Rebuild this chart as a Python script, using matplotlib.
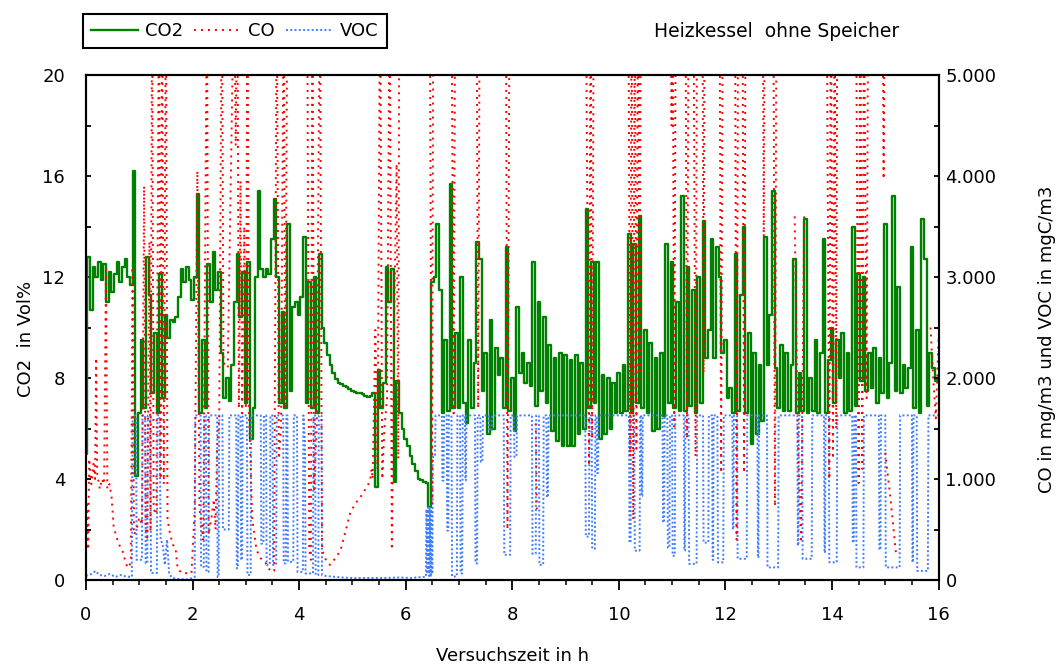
import numpy as np
import matplotlib.pyplot as plt
from matplotlib.ticker import MultipleLocator

plt.rcParams['font.family'] = ['DejaVu Sans']

co2_step = 0.05
co2_vals = [
    5.0, 12.8, 10.7, 12.4, 12.0, 12.6, 11.9, 12.5, 11.0, 12.2, 11.4, 12.1, 12.6, 11.8, 12.4, 12.7, 12.0, 11.7, 16.2, 4.1,
    6.6, 9.5, 6.8, 12.8, 11.3, 7.4, 9.8, 6.6, 12.1, 7.2, 10.5, 9.6, 10.3, 10.2, 10.4, 11.2, 12.3, 11.8, 12.4, 11.9,
    11.1, 12.0, 15.3, 6.6, 9.5, 6.8, 12.5, 11.0, 13.0, 11.5, 12.2, 9.0, 7.2, 8.0, 7.1, 8.5, 11.0, 12.9, 10.4, 12.2,
    7.0, 12.6, 5.6, 6.8, 12.0, 15.4, 12.3, 12.0, 12.3, 12.1, 13.5, 15.1, 12.0, 7.0, 10.6, 6.8, 14.1, 7.5, 10.8, 11.0,
    10.5, 11.2, 13.6, 7.0, 11.8, 6.8, 12.0, 6.6, 12.9, 10.0, 9.4, 8.9, 8.5, 8.2, 7.95, 7.8, 7.75, 7.7, 7.65, 7.55,
    7.5, 7.45, 7.4, 7.4, 7.35, 7.3, 7.25, 7.3, 7.4, 3.7, 8.3, 6.8, 7.8, 12.4, 11.0, 12.3, 3.9, 7.9, 6.6, 6.0,
    5.6, 5.3, 4.9, 4.6, 4.3, 4.0, 3.95, 3.9, 3.85, 2.9, 11.8, 12.0, 14.1, 11.5, 6.6, 9.5, 6.7, 15.7, 6.8, 9.8,
    6.8, 12.0, 7.0, 6.2, 9.5, 6.8, 8.6, 13.4, 12.7, 7.5, 9.0, 5.8, 10.3, 6.0, 9.2, 8.1, 8.8, 6.8, 13.2, 6.7,
    8.0, 5.9, 10.8, 8.2, 9.0, 7.8, 8.6, 7.7, 12.6, 6.9, 11.0, 7.5, 10.4, 7.0, 9.3, 5.9, 8.8, 5.5, 9.0, 5.3,
    8.9, 5.3, 8.7, 5.3, 8.9, 5.8, 8.6, 6.0, 14.7, 6.8, 12.6, 7.0, 12.6, 5.6, 8.1, 5.8, 8.0, 6.0, 7.8, 6.6,
    8.2, 6.6, 8.5, 6.7, 13.7, 6.6, 13.3, 7.0, 14.4, 6.8, 9.9, 6.6, 9.4, 5.9, 8.8, 6.0, 9.0, 6.5, 13.3, 7.0,
    12.6, 6.8, 11.0, 6.7, 15.2, 6.7, 12.4, 6.9, 11.5, 6.6, 12.0, 7.0, 14.2, 8.8, 9.9, 13.5, 8.8, 13.2, 12.0, 9.0,
    9.5, 7.2, 7.6, 6.6, 12.9, 6.7, 11.3, 14.0, 6.6, 9.8, 5.4, 9.0, 5.8, 8.5, 6.3, 13.6, 8.5, 10.5, 15.4, 8.4,
    6.8, 9.3, 6.7, 9.0, 6.7, 8.5, 12.7, 6.6, 8.2, 6.7, 14.3, 6.6, 8.0, 6.7, 9.5, 6.6, 9.0, 13.5, 6.6, 8.7,
    10.0, 7.0, 9.5, 8.0, 9.8, 6.6, 9.0, 6.7, 14.0, 6.9, 12.1, 7.9, 12.0, 7.5, 9.0, 7.6, 9.2, 7.0, 8.8, 7.4,
    14.1, 7.2, 8.6, 15.2, 7.5, 11.6, 7.4, 8.5, 7.6, 8.4, 13.2, 6.8, 9.9, 6.6, 14.3, 12.7, 6.9, 9.0, 8.4, 7.9,
    8.0,
]
co2_t = np.arange(len(co2_vals)) * co2_step

# CO in mg/m3 (6000 = oberhalb des Messbereichs, nan = Luecke)
nan = np.nan
co_pts = [
    (0.00, 250), (0.02, 780), (0.04, 300), (0.06, 1200), (0.10, 950), (0.14, 1150), (0.17, 1000),
    (0.19, 2200), (0.21, 1050), (0.26, 900), (0.30, 1000), (0.34, 950), (0.375, 3100), (0.40, 900),
    (0.44, 950), (0.48, 820), (0.52, 520), (0.56, 450), (0.60, 380), (0.64, 330), (0.68, 300),
    (0.72, 220), (0.76, 150), (0.80, 120), (0.84, 180), (0.875, 3100), (0.90, 450), (0.95, 500),
    (1.00, 620), (1.05, 550), (1.09, 3900), (1.12, 500), (1.15, 420), (1.19, 3350), (1.21, 480),
    (1.24, 6000), (1.27, 700), (1.32, 650), (1.37, 6000), (1.40, 1000), (1.43, 6000), (1.46, 950),
    (1.50, 6000), (1.53, 600), (1.58, 450), (1.63, 350), (1.68, 320), (1.72, 110), (1.78, 80),
    (1.85, 60), (1.92, 80), (1.98, 70), (2.04, 700), (2.09, 4050), (2.13, 700), (2.20, 400),
    (2.27, 6000), (2.30, 450), (2.35, 600), (2.40, 800), (2.43, 500), (2.46, 1300), (2.50, 1600),
    (2.55, 6000), (2.58, 2150), (2.66, 2100), (2.78, 6000), (2.81, 4300), (2.84, 6000), (2.87, 1700),
    (2.90, 3950), (2.93, 1650), (2.97, 3500), (3.00, 1700), (3.03, 6000), (3.06, 1650), (3.12, 600),
    (3.20, 300), (3.25, 240), (3.30, 200), (3.36, 180), (3.42, 120), (3.48, 80), (3.53, 90),
    (3.58, 6000), (3.62, 1200), (3.66, 1500), (3.71, 6000), (3.74, 1700), (3.78, 6000), (4.15, 6000),
    (4.19, 300), (4.22, 200), (4.25, 6000), (4.28, 900), (4.33, 1500), (4.39, 6000), (4.43, 300),
    (4.47, 240), (4.52, 175), (4.58, 150), (4.62, 175), (4.70, 230), (4.78, 300), (4.87, 480),
    (4.95, 650), (5.02, 725), (5.10, 790), (5.15, 820), (5.22, 880), (5.27, 920), (5.33, 980),
    (5.36, 1100), (5.38, 1000), (5.43, 2475), (5.47, 1100), (5.52, 6000), (5.56, 1000), (5.60, 1500),
    (5.65, 1800), (5.70, 6000), (5.74, 300), (5.78, 2500), (5.83, 4120), (5.86, 1200), (5.88, 6000),
    (6.45, 6000), (6.49, 760), (6.52, 6000), (6.86, 6000), (6.90, 1650), (6.93, 6000), (7.33, 6000),
    (7.36, 1700), (7.39, 6000), (7.88, 6000), (7.91, 500), (7.95, 6000), (8.42, nan),
    (8.44, 1550), (8.46, 700), (8.47, nan),
    (9.38, 6000), (9.44, 1130), (9.47, 6000), (9.50, 1400), (9.53, 6000), (10.18, 6000),
    (10.21, 1225), (10.24, 6000), (10.27, 600), (10.30, 6000), (10.33, 1300), (10.36, 6000),
    (10.39, 2000), (10.41, 6000), (10.97, 6000), (10.99, 4500), (11.01, 6000), (11.04, 1520),
    (11.07, 6000), (11.25, 6000), (11.28, 1400), (11.31, 6000), (11.40, 6000), (11.44, 1225),
    (11.47, 6000), (11.57, 6000), (11.59, 2050), (11.61, 6000), (11.89, 6000), (11.92, 1060),
    (11.95, 6000), (12.18, 6000), (12.21, 400), (12.24, 6000), (12.32, 6000), (12.35, 1060),
    (12.38, 6000), (12.70, 6000), (12.72, 3400), (12.74, 6000), (12.90, 6000), (12.93, 730),
    (12.96, 6000), (13.00, nan),
    (13.30, 3600), (13.36, 1400), (13.42, 370), (13.48, 3600), (13.50, nan),
    (13.90, 6000), (13.95, 1000), (13.98, 6000), (14.02, 1200), (14.05, 6000), (14.08, 1500),
    (14.10, 6000), (14.45, 6000), (14.50, 960), (14.53, 6000), (14.57, 1100), (14.60, 6000),
    (14.65, 1800), (14.68, 6000), (14.95, 6000), (14.97, 3970), (14.99, 6000), (14.995, nan),
    (15.00, 1260), (15.10, 800), (15.20, 270), (15.25, nan),
    (15.85, 2500), (15.90, 2000), (15.95, 1600), (16.00, 2400),
]

# VOC in mgC/m3 (1630 = Messbereichsende)
voc_pts = [
    (0.00, 40), (0.10, 60), (0.18, 90), (0.25, 50), (0.35, 40), (0.45, 60), (0.55, 30), (0.65, 50),
    (0.75, 35), (0.86, 30), (0.875, 1630), (0.94, 1630), (0.95, 200), (1.05, 200), (1.06, 1630),
    (1.11, 1630), (1.12, 165), (1.15, 165), (1.16, 1630), (1.21, 1630), (1.22, 70), (1.33, 70),
    (1.34, 1630), (1.38, 1630), (1.40, 400), (1.44, 350), (1.48, 150), (1.52, 400), (1.56, 60),
    (1.62, 20), (1.75, 10), (1.90, 5), (2.00, 20), (2.04, 30), (2.05, 1630), (2.15, 1630),
    (2.16, 130), (2.21, 130), (2.22, 1630), (2.25, 1630), (2.26, 80), (2.30, 80), (2.31, 1630),
    (2.46, 1630), (2.47, 30), (2.49, 30), (2.50, 1630), (2.56, 1630), (2.57, 500), (2.68, 500),
    (2.69, 1630), (2.82, 1630), (2.83, 115), (2.85, 115), (2.86, 1630), (2.90, 1630), (2.91, 200),
    (2.93, 200), (2.94, 1630), (3.02, 1630), (3.03, 50), (3.09, 50), (3.10, 1630), (3.28, 1630),
    (3.29, 360), (3.33, 360), (3.34, 1630), (3.38, 1630), (3.39, 150), (3.45, 150), (3.46, 1630),
    (3.50, 1630), (3.51, 150), (3.57, 150), (3.58, 1630), (3.70, 1630), (3.71, 165), (3.75, 165),
    (3.76, 1630), (3.78, 1630), (3.79, 180), (3.89, 180), (3.90, 1630), (3.96, 1630), (3.97, 80),
    (4.07, 80), (4.08, 1630), (4.11, 1370), (4.12, 65), (4.26, 65), (4.27, 1630), (4.30, 1630),
    (4.31, 50), (4.36, 50), (4.37, 1630), (4.42, 1630), (4.43, 50), (4.50, 40), (4.60, 35),
    (4.80, 25), (5.00, 20), (5.30, 20), (5.60, 20), (5.90, 25), (6.10, 20), (6.30, 30), (6.38, 30),
    (6.39, 700), (6.41, 60), (6.42, 720), (6.44, 40), (6.45, 725), (6.47, 30), (6.48, 700),
    (6.50, 60), (6.51, 1220), (6.55, 1220), (6.56, 1630),
    (6.68, 1630), (6.69, 985), (6.71, 985), (6.72, 1630), (6.77, 1630), (6.78, 490), (6.80, 490),
    (6.81, 1630), (6.86, 1630), (6.87, 35), (6.96, 35), (6.97, 1630), (7.02, 1630), (7.03, 65),
    (7.06, 65), (7.07, 1630), (7.11, 1630), (7.12, 985), (7.13, 985), (7.14, 1630), (7.30, 1630),
    (7.31, 165), (7.34, 165), (7.35, 1630), (7.40, 1630), (7.41, 1170), (7.44, 1170), (7.45, 1630),
    (7.56, 1630), (7.57, 1480), (7.61, 1480), (7.62, 1630), (7.84, 1630), (7.85, 250), (7.96, 250),
    (7.97, 1630), (8.03, 1630), (8.04, 1220), (8.08, 1220), (8.09, 1630), (8.37, 1630), (8.38, 260),
    (8.44, 260), (8.45, 1630), (8.50, 1630), (8.51, 150), (8.58, 150), (8.59, 1630), (8.64, 1630),
    (8.65, 820), (8.67, 820), (8.68, 1630), (9.37, 1630), (9.38, 430), (9.44, 430), (9.45, 1630),
    (9.49, 1630), (9.50, 310), (9.55, 310), (9.56, 1630), (9.58, 1630), (9.59, 1060), (9.61, 1060),
    (9.62, 1630), (10.19, 1630), (10.20, 370), (10.22, 370), (10.23, 1630), (10.29, 1630),
    (10.30, 290), (10.39, 290), (10.40, 1630), (10.42, 1630), (10.43, 830), (10.44, 830),
    (10.45, 1630), (10.82, 1630), (10.83, 570), (10.85, 570), (10.86, 1630), (10.91, 1630),
    (10.92, 320), (10.95, 320), (10.96, 1630), (11.00, 1630), (11.01, 240), (11.05, 240),
    (11.06, 1630), (11.22, 1630), (11.23, 290), (11.24, 290), (11.25, 1630), (11.31, 1630),
    (11.32, 160), (11.46, 160), (11.47, 1630), (11.58, 1630), (11.59, 370), (11.68, 370),
    (11.69, 1630), (11.75, 1630), (11.76, 200), (11.77, 200), (11.78, 1630), (11.85, 1630),
    (11.86, 175), (11.96, 175), (11.97, 1630), (12.13, 1630), (12.14, 500), (12.15, 500),
    (12.16, 1630), (12.22, 1630), (12.23, 210), (12.40, 210), (12.41, 1630), (12.60, 1630),
    (12.61, 220), (12.62, 220), (12.63, 1630), (12.78, 1630), (12.79, 125), (12.99, 125),
    (13.00, 1630), (13.35, 1630), (13.36, 340), (13.37, 340), (13.38, 1630), (13.44, 1630),
    (13.45, 210), (13.62, 210), (13.63, 1630), (13.85, 1630), (13.86, 270), (13.87, 270),
    (13.88, 1630), (13.94, 1630), (13.95, 175), (14.09, 175), (14.10, 1630), (14.38, 1630),
    (14.39, 370), (14.41, 370), (14.42, 1630), (14.45, 1630), (14.46, 125), (14.59, 125),
    (14.60, 1630), (14.88, 1630), (14.89, 300), (14.91, 300), (14.92, 1630), (15.00, 1630),
    (15.01, 125), (15.27, 125), (15.28, 1630), (15.50, 1630), (15.51, 175), (15.52, 175),
    (15.53, 1630), (15.59, 1630), (15.60, 90), (15.80, 90), (15.81, 1630), (16.00, 1630),
]

x_ticks = [0, 2, 4, 6, 8, 10, 12, 14, 16]
left_ticks = [0, 4, 8, 12, 16, 20]
right_ticks = [0, 1000, 2000, 3000, 4000, 5000]
right_labels = ['0', '1.000', '2.000', '3.000', '4.000', '5.000']

co_t, co_v = zip(*co_pts)
voc_t, voc_v = zip(*voc_pts)

fig = plt.figure(figsize=(10.63, 6.65), dpi=100)
ax = fig.add_axes([0.0809, 0.1278, 0.802, 0.7594])
ax2 = ax.twinx()

l_co2, = ax.plot(co2_t, co2_vals, color='#008000', lw=1.7, drawstyle='steps-mid', label='CO2')
l_voc, = ax2.plot(voc_t, voc_v, color='#3f7dff', lw=1.4, linestyle=(0, (1, 1.2)), label='VOC')
l_co, = ax2.plot(co_t, co_v, color='#ff0000', lw=1.4, linestyle=(0, (1, 2.6)), label='CO')

ax.set_xlim(0, 16)
ax.set_ylim(0, 20)
ax2.set_ylim(0, 5000)

ax.set_xticks(x_ticks)
ax.xaxis.set_minor_locator(MultipleLocator(0.5))
ax.set_yticks(left_ticks)
ax.yaxis.set_minor_locator(MultipleLocator(2))
ax2.set_yticks(right_ticks)
ax2.set_yticklabels(right_labels)
ax2.yaxis.set_minor_locator(MultipleLocator(500))

ax.tick_params(axis='x', which='major', direction='out', length=7, width=1.3, labelsize=13, pad=12)
ax.tick_params(axis='x', which='minor', direction='out', length=3.5, width=1.1)
ax.tick_params(axis='y', which='both', direction='in', length=3.5, width=1.3, labelsize=13, pad=15)
ax2.tick_params(axis='y', which='both', direction='in', length=3.5, width=1.3, labelsize=13, pad=5)

for a in (ax, ax2):
    for s in a.spines.values():
        s.set_linewidth(1.5)

fig.text(0.024, 0.49, 'CO2  in Vol%', rotation=90, ha='center', va='center', fontsize=13)
fig.text(0.985, 0.49, 'CO in mg/m3 und VOC in mgC/m3', rotation=90, ha='center', va='center', fontsize=13)
fig.text(0.482, 0.014, 'Versuchszeit in h', ha='center', va='center', fontsize=13)
fig.text(0.731, 0.952, 'Heizkessel  ohne Speicher', ha='center', va='center', fontsize=13.5)

leg = fig.legend([l_co2, l_co, l_voc], ['CO2', 'CO', 'VOC'], loc='upper left',
                 bbox_to_anchor=(0.078, 0.979), ncol=3, fontsize=13, frameon=True,
                 fancybox=False, framealpha=1, edgecolor='black', handlelength=2.6,
                 handletextpad=0.4, columnspacing=0.6, borderpad=0.45, borderaxespad=0)
leg.get_frame().set_linewidth(1.5)

fig.savefig('out.png', dpi=100)
